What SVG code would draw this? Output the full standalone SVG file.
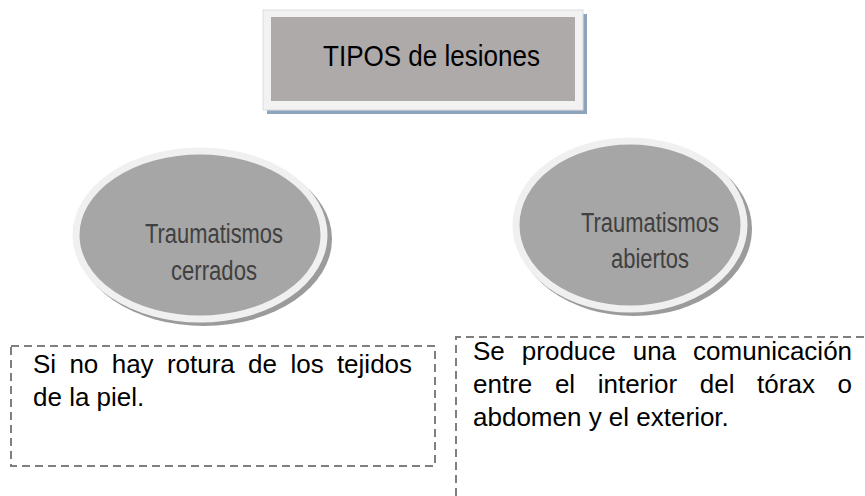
<svg xmlns="http://www.w3.org/2000/svg" width="865" height="496" viewBox="0 0 865 496">
<style>
.t{font-family:"Liberation Sans",Arial,sans-serif;}
.title{font-size:30px;fill:#000;}
.oval{font-size:27px;fill:#404040;}
.body{font-size:26px;fill:#000;}
.dash{fill:none;stroke:#7f7f7f;stroke-width:2;stroke-dasharray:8 5;}
.rim{fill:#a6a6a6;stroke:#f0f0f0;stroke-width:7;}
.osh{fill:#9b9b9b;}
</style>
<rect width="865" height="496" fill="#fff"/>
<g id="connectors"></g>
<g id="title">
<rect x="267" y="14" width="320" height="100" fill="#8ea4bc"/>
<rect x="263" y="10" width="320" height="100" fill="#f2f2f2" stroke="#dcdcdc" stroke-width="1"/>
<rect x="271" y="17" width="304" height="84" fill="#aeaaa9"/>
<text class="t title" x="323" y="66" textLength="217" lengthAdjust="spacingAndGlyphs">TIPOS de lesiones</text>
</g>
<g id="cerrados">
<ellipse class="osh" cx="204" cy="239" rx="128" ry="87"/>
<ellipse class="rim" cx="200" cy="235" rx="124" ry="84"/>
<text class="t oval" x="214" y="243" text-anchor="middle" textLength="138" lengthAdjust="spacingAndGlyphs">Traumatismos</text>
<text class="t oval" x="214" y="280" text-anchor="middle" textLength="86" lengthAdjust="spacingAndGlyphs">cerrados</text>
</g>
<g id="abiertos">
<ellipse class="osh" cx="634" cy="229" rx="118" ry="87"/>
<ellipse class="rim" cx="630" cy="225" rx="114" ry="84"/>
<text class="t oval" x="650" y="232" text-anchor="middle" textLength="138" lengthAdjust="spacingAndGlyphs">Traumatismos</text>
<text class="t oval" x="650" y="268" text-anchor="middle" textLength="78" lengthAdjust="spacingAndGlyphs">abiertos</text>
</g>
<g id="desc-cerrados">
<rect class="dash" x="11" y="346" width="424" height="120"/>
<text class="t body" y="373"><tspan x="33">Si</tspan><tspan x="69.4">no</tspan><tspan x="111.7">hay</tspan><tspan x="166.9">rotura</tspan><tspan x="248.1">de</tspan><tspan x="290.4">los</tspan><tspan x="336.9">tejidos</tspan></text>
<text class="t body" x="33" y="406">de la piel.</text>
</g>
<g id="desc-abiertos">
<path class="dash" d="M456,496 V337 H865"/>
<text class="t body" y="360"><tspan x="473">Se</tspan><tspan x="521.8">produce</tspan><tspan x="632.7">una</tspan><tspan x="693.1">comunicación</tspan></text>
<text class="t body" y="393"><tspan x="473">entre</tspan><tspan x="554.9">el</tspan><tspan x="597.7">interior</tspan><tspan x="699.8">del</tspan><tspan x="757.1">tórax</tspan><tspan x="837.5">o</tspan></text>
<text class="t body" x="473" y="426">abdomen y el exterior.</text>
</g>
</svg>
